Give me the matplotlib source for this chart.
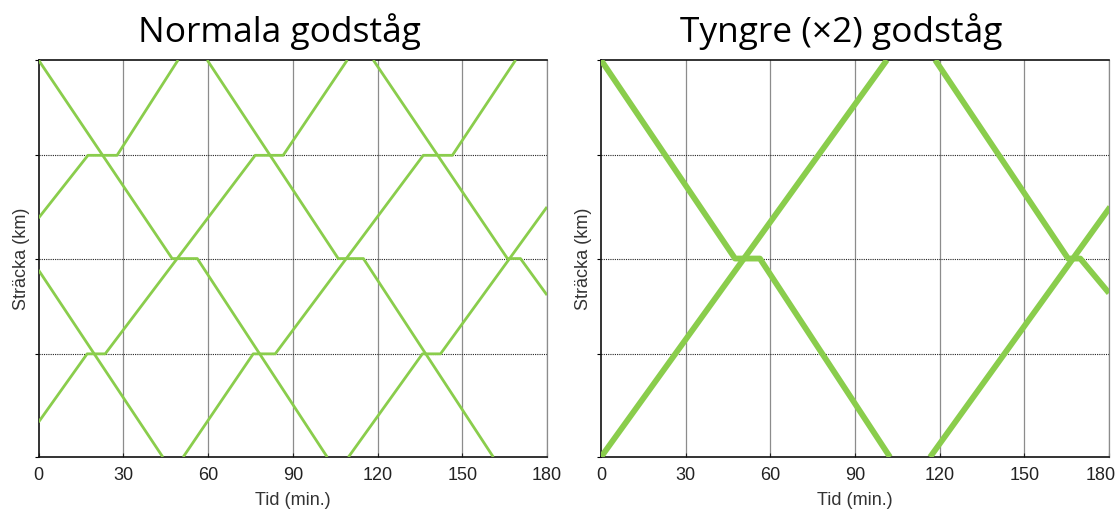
import matplotlib.pyplot as plt
import matplotlib.transforms as mtransforms

# stations along the line (km), bottom to top
stations = [0, 26, 50, 76, 100]
time_ticks = [0, 30, 60, 90, 120, 150, 180]

# normal freight trains: (minutes, km) breakpoints, waits show as flat parts
normal_trains = [
    ([0, 44.0], [47.1, 0]),
    ([0, 47.3, 56.2, 102.2], [100, 50, 50, 0]),
    ([59.7, 106.1, 115.0, 161.0], [100, 50, 50, 0]),
    ([118.5, 166.0, 170.6, 180], [100, 50, 50, 40.8]),
    ([0, 17.5, 27.8, 49.4], [60.2, 76, 76, 100]),
    ([0, 17.2, 23.6, 76.7, 86.6, 109.3], [8.8, 26, 26, 76, 76, 100]),
    ([51.2, 76.0, 83.8, 136.2, 146.5, 168.9], [0, 26, 26, 76, 76, 100]),
    ([109.7, 135.9, 142.3, 180], [0, 26, 26, 63.0]),
]

# heavier trains (twice the length), run half as often
heavy_trains = [
    ([0, 47.5, 56.3, 102.4], [100, 50, 50, 0]),
    ([0, 101.3], [0, 100]),
    ([118.4, 165.5, 169.8, 180], [100, 50, 50, 41.3]),
    ([116.6, 180.4], [0, 63.0]),
]

green = "#8acd4c"
plt.rcParams["font.family"] = ["Liberation Sans", "DejaVu Sans"]

fig = plt.figure(figsize=(11.2, 5.13), dpi=100)
ax1 = fig.add_axes([0.0344, 0.109, 0.454, 0.774])
ax2 = fig.add_axes([0.5366, 0.109, 0.4536, 0.774])


def draw(ax, trains, title, lw):
    ax.set_xlim(0, 180)
    ax.set_ylim(0, 100)
    for x in time_ticks[1:]:
        ax.axvline(x, color="#8c8c8c", lw=0.9, zorder=1)
    for y in stations[1:-1]:
        ax.axhline(y, color="#222222", lw=0.8, ls=(0, (1, 1)), zorder=1)
    for t, s in trains:
        ax.plot(t, s, color=green, lw=lw, solid_capstyle="butt", zorder=3)
    ax.set_xticks(time_ticks)
    ax.set_yticks(stations)
    ax.set_yticklabels([])
    ax.tick_params(axis="x", direction="in", length=3, labelsize=13,
                   pad=7, colors="#222222")
    ax.tick_params(axis="y", direction="out", length=3)
    for side in ["left", "bottom", "top"]:
        ax.spines[side].set_color("#111111")
        ax.spines[side].set_linewidth(1.2)
    ax.spines["right"].set_color("#8c8c8c")
    ax.spines["right"].set_linewidth(0.9)
    ax.set_xlabel("Tid (min.)", fontsize=13, color="#333333", labelpad=6)
    ax.set_ylabel("Sträcka (km)", fontsize=13, color="#333333", labelpad=0)
    ax.set_title(title, fontsize=25.5, pad=13, x=0.473,
                 family=["Open Sans", "DejaVu Sans"])


draw(ax1, normal_trains, "Normala godståg", 2.0)
draw(ax2, heavy_trains, "Tyngre (×2) godståg", 4.2)

# pull the last tick label in so it stays inside the figure
last = ax2.get_xticklabels()[-1]
last.set_transform(last.get_transform() +
                   mtransforms.ScaledTranslation(-8 / 100, 0, fig.dpi_scale_trans))

fig.savefig("out.png", dpi=100)
